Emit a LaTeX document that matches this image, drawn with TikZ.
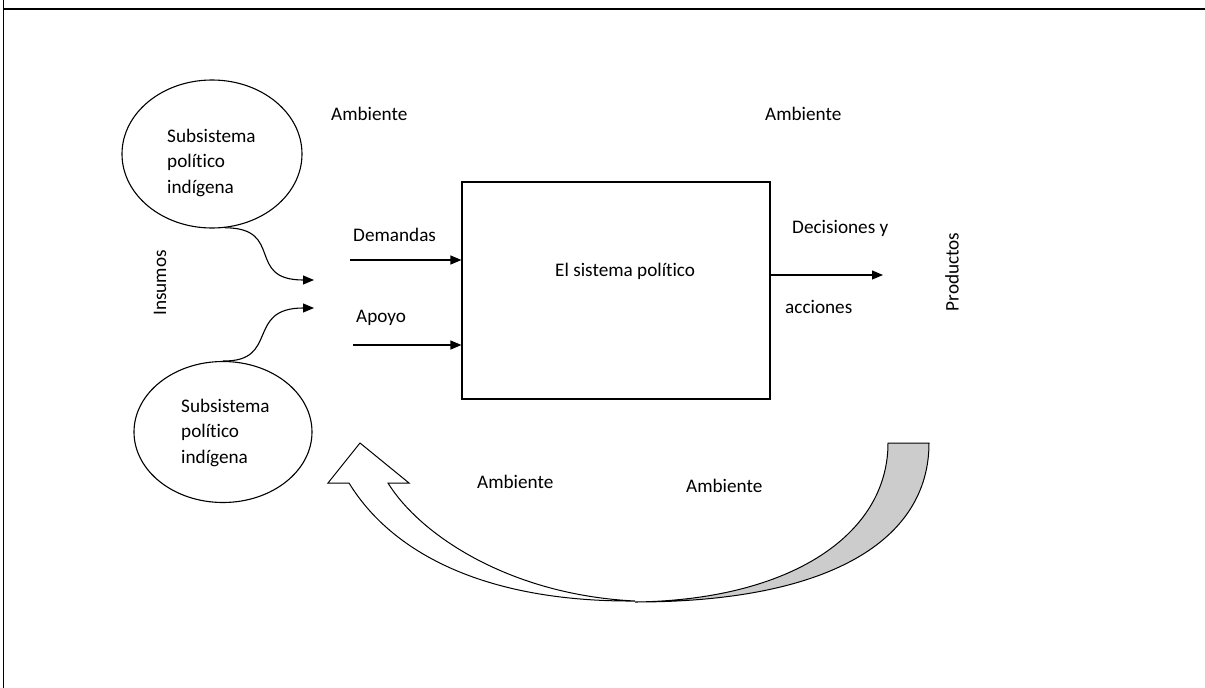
\documentclass[tikz,border=0pt]{standalone}
\usepackage{fontspec}
\setmainfont{Carlito}[Ligatures={NoCommon}]
\usetikzlibrary{arrows.meta,shapes.geometric}
\definecolor{bandgray}{RGB}{204,204,204}
\begin{document}
\begin{tikzpicture}[x=1pt,y=-1pt,
  txt/.style={font=\fontsize{19.2}{25.5}\selectfont, inner sep=0pt},
  conn/.style={line width=1.1pt, -{Triangle[length=11pt,width=9pt]}},
  ell/.style={ellipse, draw, line width=1.1pt, inner sep=0pt},
  band/.style={line width=1pt, line join=miter},
  frameline/.style={line width=#1}]
\useasboundingbox (0,0) rectangle (1205,688);
% frame
\draw[frameline=1.5pt] (3.5,0) -- (3.5,688);
\draw[frameline=2.5pt] (2.8,9) -- (1205,9);
% ellipses
\node[ell, minimum width=180pt, minimum height=148pt] (e1) at (212,154) {};
\node[txt, align=left, anchor=base west] (t1) at (167,193) {Subsistema\\político\\indígena};
\node[ell, minimum width=178pt, minimum height=141pt] (e2) at (223,432) {};
\node[txt, align=left, anchor=base west] (t2) at (181,463) {Subsistema\\político\\indígena};
% box
\node[draw, line width=1.1pt, minimum width=308pt, minimum height=217pt, inner sep=0pt] (box) at (616,290.5) {};
\node[txt, anchor=base west] (title) at (555,276) {El sistema político};
% labels
\node[txt, anchor=base west] (amb1) at (331,120) {Ambiente};
\node[txt, anchor=base west] (amb2) at (765,120) {Ambiente};
\node[txt, anchor=base west] (amb3) at (477,488) {Ambiente};
\node[txt, anchor=base west] (amb4) at (686,492) {Ambiente};
\node[txt, anchor=base west] (dem) at (353,241.5) {Demandas};
\node[txt, anchor=base west] (apo) at (356,322.5) {Apoyo};
\node[txt, anchor=base west] (dec) at (792,233) {Decisiones y};
\node[txt, anchor=base west] (acc) at (785,313) {acciones};
\node[txt, rotate=90] (ins) at (160,283) {Insumos};
\node[txt, rotate=90] (pro) at (952,272) {Productos};
% straight arrows
\coordinate (d0) at (350,260);
\draw[conn] (d0) -- (d0 -| box.west);
\coordinate (a0) at (353,345);
\draw[conn] (a0) -- (a0 -| box.west);
\coordinate (p1) at (883,275);
\draw[conn] (p1 -| box.east) -- (p1);
% curved input arrows
\coordinate (i1) at (314,280);
\draw[conn] (e1.-80) .. controls (285,228) and (245,280) .. (i1);
\coordinate (i2) at (314,308);
\draw[conn] (e2.north) .. controls (280,362) and (245,308) .. (i2);
% big feedback arrow
\draw[band, fill=bandgray] (888,443) -- (929,443) .. controls (929,540) and (830,602) .. (635,602)
  .. controls (790,600) and (888,535) .. (888,443) -- cycle;
\draw[band, fill=white] (360,443) -- (409,483) -- (388,483) .. controls (420,535) and (510,595) .. (635,601)
  .. controls (480,602) and (390,550) .. (349,483) -- (328,483) -- cycle;
\end{tikzpicture}
\end{document}
